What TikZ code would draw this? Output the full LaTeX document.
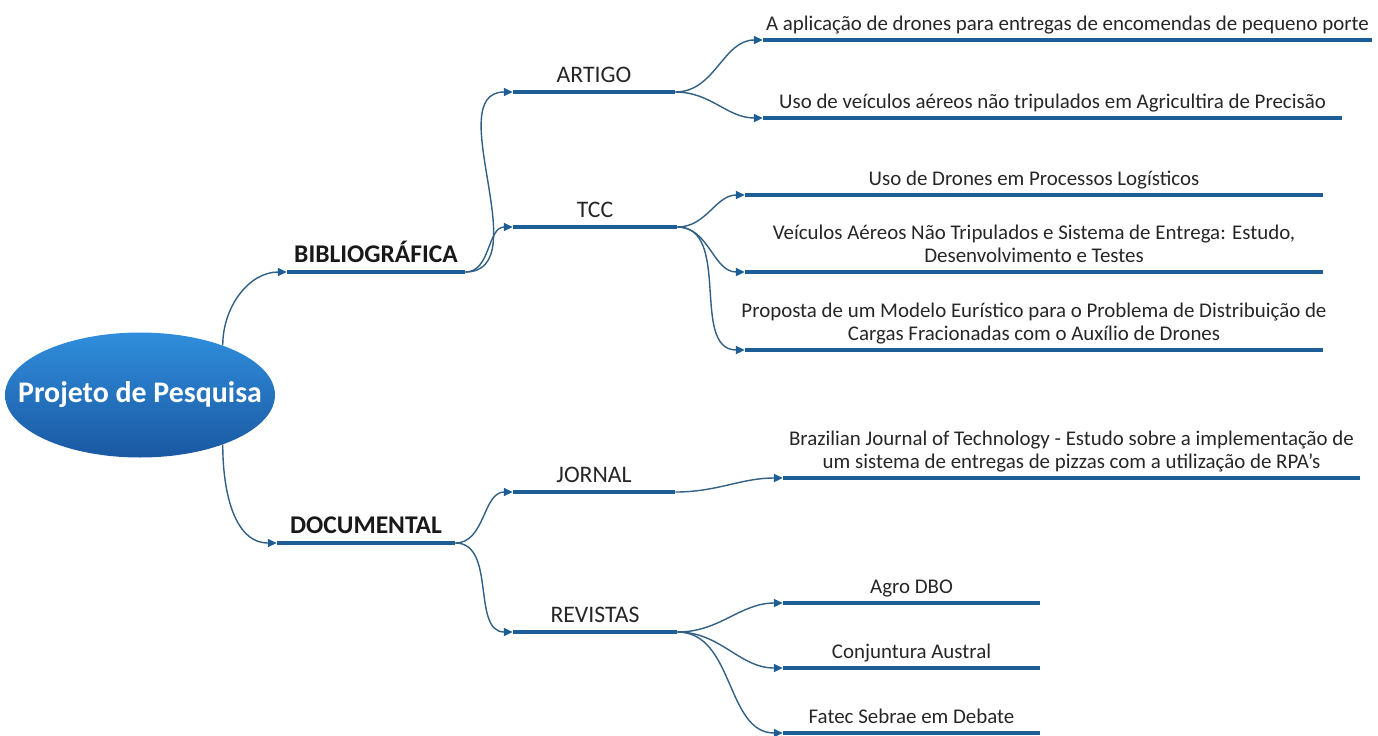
\documentclass[tikz,border=0pt]{standalone}
\usepackage{fontspec}
\setmainfont{Carlito}
\usetikzlibrary{arrows.meta,shapes.geometric}
\definecolor{barra}{RGB}{30,94,150}
\definecolor{cfio}{RGB}{50,96,132}
\definecolor{elsup}{RGB}{48,142,220}
\definecolor{elinf}{RGB}{26,88,162}
\tikzset{%
    bar/.style={rectangle, fill=barra, inner sep=0pt, minimum height=2.3pt},
    txt/.style={inner sep=0pt, text=black!85, align=center, text depth=2.5pt, label distance=1.5pt, font=\fontsize{11.9}{13}\selectfont},
    cab/.style={txt, font=\fontsize{13.5}{15}\selectfont},
    tit/.style={txt, text=black!90, font=\fontsize{14.5}{16}\selectfont\bfseries},
    lc/.style={label={[txt]above:{#1}}},
    lf/.style={label={[cab]above:{#1}}},
    lt/.style={label={[tit]above:{#1}}},
    elip/.style={ellipse, minimum width=5.4cm, minimum height=2.5cm, inner sep=0pt, top color=elsup, bottom color=elinf},
    eltx/.style={inner sep=0pt, text=white, font=\fontsize{17}{19}\selectfont\bfseries},
    lig/.style={draw=cfio, line width=0.8pt, -{Triangle[length=5pt,width=4.6pt,color=barra]}}
}

\begin{document}
\begin{tikzpicture}[x=0.02cm, y=-0.02cm]
    \useasboundingbox (0,0) rectangle (1378,735);
    \node[elip] (proj) at (140,395) {};
    \node[eltx] (projtx) at (proj.center) {Projeto de Pesquisa};
    % tipos de pesquisa
    \node[bar, minimum width=3.56cm, lt=BIBLIOGRÁFICA] (bib) at (376,272) {};
    \node[bar, minimum width=3.56cm, lt=DOCUMENTAL] (doc) at (366,543) {};
    % fontes
    \node[bar, minimum width=3.24cm, lf=ARTIGO] (artigo) at (594,92) {};
    \node[bar, minimum width=3.28cm, lf=TCC] (tcc) at (595,227) {};
    \node[bar, minimum width=3.24cm, lf=JORNAL] (jornal) at (594,492) {};
    \node[bar, minimum width=3.28cm, lf=REVISTAS] (revistas) at (595,632) {};
    % titulos
    \node[bar, minimum width=12.18cm, lc={A aplicação de drones para entregas de encomendas de pequeno porte}] (art1) at (1067.5,40) {};
    \node[bar, minimum width=11.58cm, lc={Uso de veículos aéreos não tripulados em Agricultira de Precisão}] (art2) at (1052.5,118) {};
    \node[bar, minimum width=11.56cm, lc={Uso de Drones em Processos Logísticos}] (tcc1) at (1034,195) {};
    \node[bar, minimum width=11.56cm, lc={Veículos Aéreos Não Tripulados e Sistema de Entrega: Estudo,\\Desenvolvimento e Testes}] (tcc2) at (1034,272) {};
    \node[bar, minimum width=11.56cm, lc={Proposta de um Modelo Eurístico para o Problema de Distribuição de\\Cargas Fracionadas com o Auxílio de Drones}] (tcc3) at (1034,350) {};
    \node[bar, minimum width=11.54cm, lc={Brazilian Journal of Technology - Estudo sobre a implementação de\\um sistema de entregas de pizzas com a utilização de RPA's}] (jor1) at (1071.5,478) {};
    \node[bar, minimum width=5.14cm, lc={Agro DBO}] (rev1) at (911.5,603) {};
    \node[bar, minimum width=5.14cm, lc={Conjuntura Austral}] (rev2) at (911.5,668) {};
    \node[bar, minimum width=5.14cm, lc={Fatec Sebrae em Debate}] (rev3) at (911.5,733) {};
    % ligacoes
    \draw[lig] (proj.31) to[out=90,in=180] (bib.west);
    \draw[lig] (proj.-31) to[out=-90,in=180] (doc.west);
    \foreach \a/\b in {bib/artigo, bib/tcc, doc/jornal, doc/revistas, artigo/art1, artigo/art2, tcc/tcc1, tcc/tcc2, tcc/tcc3, jornal/jor1, revistas/rev1, revistas/rev2, revistas/rev3}
        \draw[lig] (\a.east) to[out=0,in=180] (\b.west);
\end{tikzpicture}
\end{document}
